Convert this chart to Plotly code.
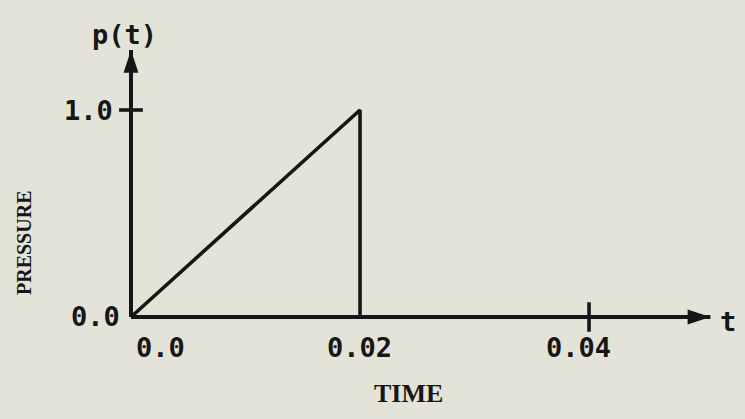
import plotly.graph_objects as go

# Data (triangular pressure pulse)
time = [0.0, 0.02, 0.02]
pressure = [0.0, 1.0, 0.0]

x_tick_vals = [0.0, 0.02, 0.04]
x_tick_text = ["0.0", "0.02", "0.04"]
y_tick_vals = [0.0, 1.0]
y_tick_text = ["0.0", "1.0"]

t_axis_end = 0.0506
p_axis_end = 1.29

INK = "#161616"
BG = "#e3e3d7"
MONO = "DejaVu Sans Mono"
SERIF = "Liberation Serif"

fig = go.Figure()

# axes
fig.add_trace(go.Scatter(x=[0, t_axis_end], y=[0, 0], mode="lines",
                         line=dict(color=INK, width=4), hoverinfo="skip"))
fig.add_trace(go.Scatter(x=[0, 0], y=[0, p_axis_end], mode="lines",
                         line=dict(color=INK, width=4), hoverinfo="skip"))
# arrowheads
fig.add_trace(go.Scatter(x=[t_axis_end, 0], y=[0, p_axis_end], mode="markers",
                         marker=dict(symbol="arrow", size=24, angle=[90, 0],
                                     color=INK, line=dict(width=0)),
                         hoverinfo="skip"))

# pulse
fig.add_trace(go.Scatter(x=time, y=pressure, mode="lines",
                         line=dict(color=INK, width=3.6), hoverinfo="skip"))

# tick marks crossing the axes
fig.add_trace(go.Scatter(x=[0.0], y=[1.0], mode="markers",
                         marker=dict(symbol="line-ew", size=17,
                                     line=dict(color=INK, width=3.6)),
                         hoverinfo="skip"))
fig.add_trace(go.Scatter(x=[0.04], y=[0.0], mode="markers",
                         marker=dict(symbol="line-ns", size=21,
                                     line=dict(color=INK, width=3.6)),
                         hoverinfo="skip"))

annotations = []
tick_font = dict(family=MONO, size=27, color=INK, weight="bold")
x_shifts = [29, -1, -11]
for v, txt, xs in zip(x_tick_vals, x_tick_text, x_shifts):
    annotations.append(dict(x=v, y=0, xref="x", yref="y", text=txt,
                            showarrow=False, xshift=xs, yshift=-31,
                            font=tick_font))
y_shifts = [-36, -43]
for v, txt, xs in zip(y_tick_vals, y_tick_text, y_shifts):
    annotations.append(dict(x=0, y=v, xref="x", yref="y", text=txt,
                            showarrow=False, xshift=xs, yshift=0,
                            font=tick_font))

# axis symbols
annotations.append(dict(x=0, y=p_axis_end, xref="x", yref="y", text="p(t)",
                        showarrow=False, xshift=-7, yshift=15,
                        font=dict(family=MONO, size=27, color=INK, weight="bold")))
annotations.append(dict(x=t_axis_end, y=0, xref="x", yref="y", text="t",
                        showarrow=False, xshift=18, yshift=-5,
                        font=dict(family=MONO, size=27, color=INK, weight="bold")))

# axis titles (pixel positions converted to paper coords)
W, H = 745, 419
annotations.append(dict(x=408 / W, y=1 - 393 / H, xref="paper", yref="paper",
                        xanchor="center", yanchor="middle",
                        text="TIME", showarrow=False,
                        font=dict(family=SERIF, size=26, color=INK, weight="bold")))
annotations.append(dict(x=24 / W, y=1 - 243 / H, xref="paper", yref="paper",
                        xanchor="center", yanchor="middle",
                        text="PRESSURE", showarrow=False, textangle=-90,
                        font=dict(family=SERIF, size=20, color=INK, weight="bold")))

fig.update_layout(
    width=W, height=H,
    margin=dict(l=0, r=0, t=0, b=0),
    paper_bgcolor=BG, plot_bgcolor=BG,
    showlegend=False,
    xaxis=dict(range=[-0.01144, 0.05362], visible=False, fixedrange=True),
    yaxis=dict(range=[-0.4928, 1.5314], visible=False, fixedrange=True),
    annotations=annotations,
)

fig.write_html("out.html",
               config={"displayModeBar": False, "staticPlot": True},
               post_script="document.body.style.margin='0';"
                           "document.body.style.background='" + BG + "';")
